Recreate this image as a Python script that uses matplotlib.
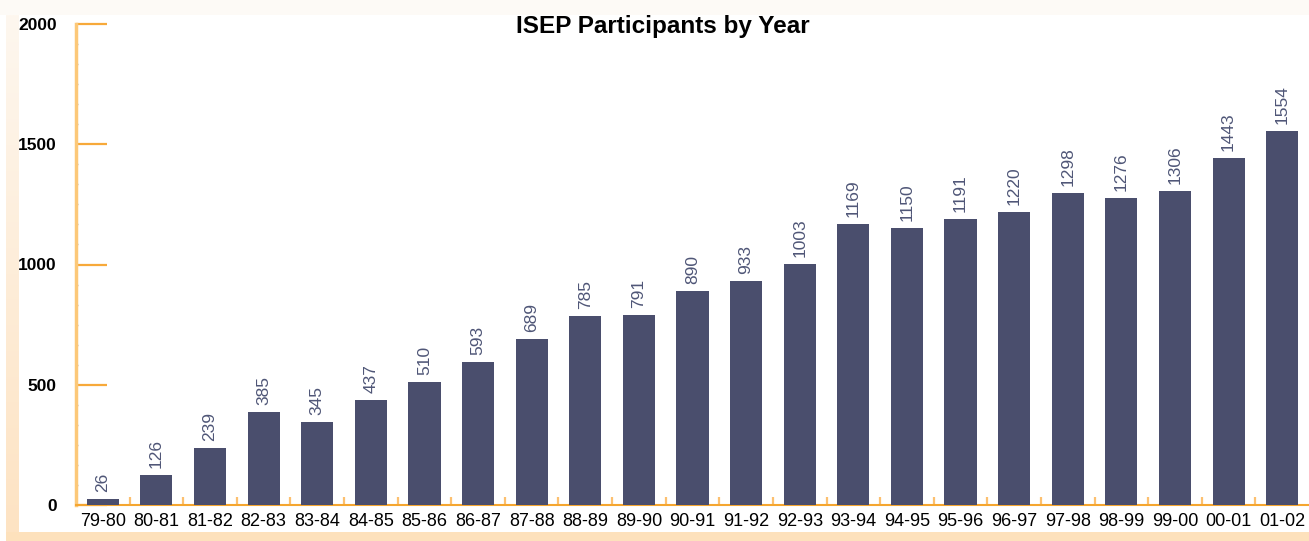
import matplotlib
matplotlib.use("Agg")
import matplotlib.pyplot as plt
import numpy as np
from matplotlib.patches import Rectangle
from matplotlib.ticker import MultipleLocator, FixedLocator
from matplotlib.colors import LinearSegmentedColormap

years = ["79-80", "80-81", "81-82", "82-83", "83-84", "84-85", "85-86", "86-87",
         "87-88", "88-89", "89-90", "90-91", "91-92", "92-93", "93-94", "94-95",
         "95-96", "96-97", "97-98", "98-99", "99-00", "00-01", "01-02"]
participants = [26, 126, 239, 385, 345, 437, 510, 593, 689, 785, 791, 890, 933,
                1003, 1169, 1150, 1191, 1220, 1298, 1276, 1306, 1443, 1554]
yticks = [0, 500, 1000, 1500, 2000]
title = "ISEP Participants by Year"

plt.rcParams['font.family'] = ['Liberation Sans', 'DejaVu Sans']

W, H = 1309, 541
fig = plt.figure(figsize=(W / 100, H / 100), dpi=100, facecolor='white')

# decorative background bands
fig.patches.append(Rectangle((0, 1 - 15 / H), 1, 15 / H, transform=fig.transFigure,
                             facecolor='#fdfaf6', edgecolor='none', zorder=0))
grad = np.linspace(0, 1, 256).reshape(-1, 1)
cmap = LinearSegmentedColormap.from_list('peach', ['#fde3c3', '#fef7ef'])
bax = fig.add_axes([6 / W, 9 / H, 13 / W, 1 - 24 / H], zorder=0)
bax.imshow(grad, aspect='auto', cmap=cmap, origin='lower', extent=[0, 1, 0, 1])
bax.axis('off')
fig.patches.append(Rectangle((6 / W, 0), 1, 9 / H, transform=fig.transFigure,
                             facecolor='#fde1bc', edgecolor='none', zorder=0))

ax = fig.add_axes([76 / W, 1 - 505 / H, (W - 76) / W, (505 - 24) / H], zorder=2)
ax.patch.set_alpha(0)

x = np.arange(len(years))
ax.bar(x, participants, width=0.6, color='#4a4e6d', edgecolor='none', zorder=3)
for xi, v in zip(x, participants):
    ax.annotate(str(v), (xi, v), xytext=(0, 5), textcoords='offset points',
                rotation=90, ha='center', va='bottom', fontsize=12.5,
                color='#4f5677')

ax.set_xlim(-0.5, len(years) - 0.5)
ax.set_ylim(0, 2000)

for s in ['top', 'right']:
    ax.spines[s].set_visible(False)
ax.spines['left'].set_color('#fcc878')
ax.spines['left'].set_linewidth(2.5)
ax.spines['bottom'].set_color('#f5a630')
ax.spines['bottom'].set_linewidth(1.5)

ax.set_yticks(yticks)
ax.set_yticklabels([str(t) for t in yticks], fontsize=12.5, fontweight='bold')
ax.yaxis.set_minor_locator(MultipleLocator(500 / 6))
ax.tick_params(axis='y', which='major', direction='in', length=22, width=1.6,
               color='#f7a93a', pad=14)
ax.tick_params(axis='y', which='minor', direction='in', length=1.5, width=1,
               color='#c8b8a8')

ax.set_xticks(x)
ax.set_xticklabels(years, fontsize=13)
ax.xaxis.set_minor_locator(FixedLocator(np.arange(0.5, len(years) - 0.5, 1)))
ax.tick_params(axis='x', which='major', length=0, pad=6)
ax.tick_params(axis='x', which='minor', direction='in', length=6, width=1.6,
               color='#fcc070')

fig.text(663 / W, 1 - 27 / H, title, ha='center', va='center', fontsize=17.5,
         fontweight='bold', color='black')

fig.savefig('out.png', dpi=100, facecolor='white')
